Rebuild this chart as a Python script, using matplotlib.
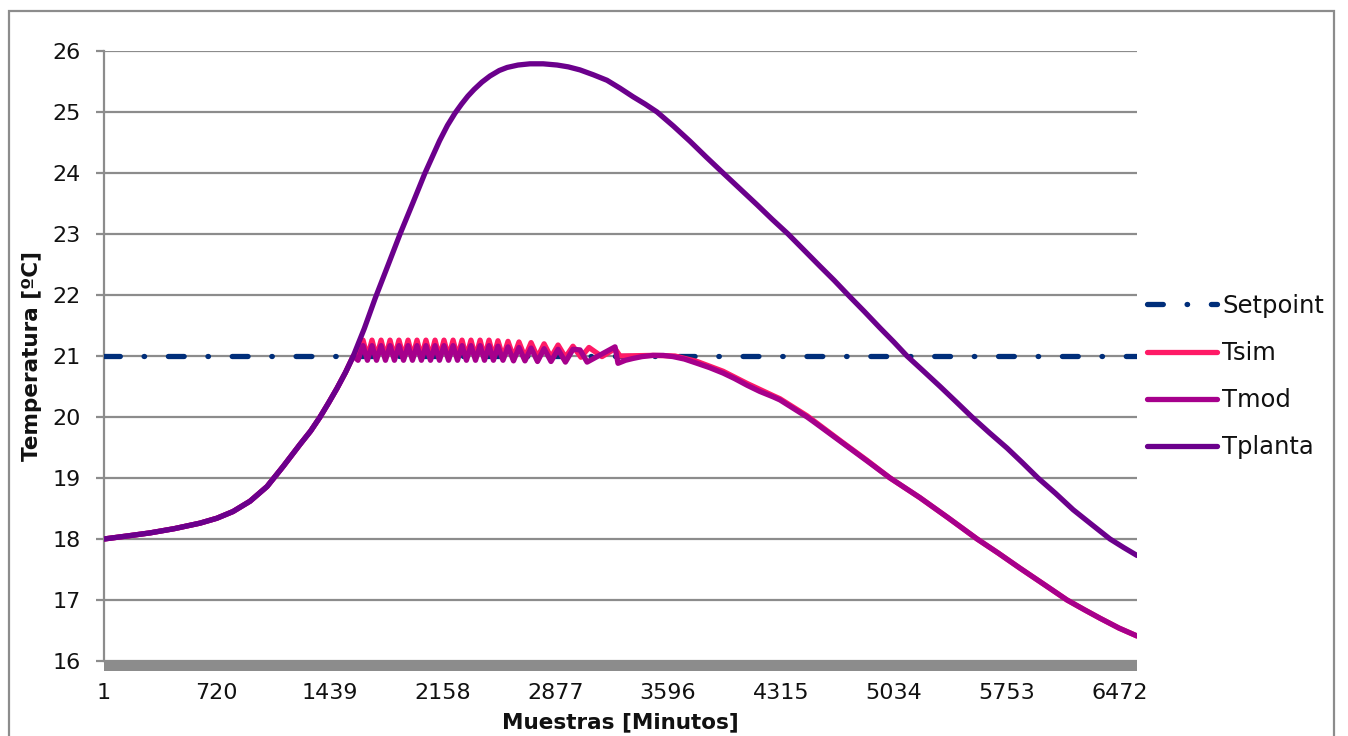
import matplotlib
matplotlib.use("Agg")
import matplotlib.pyplot as plt
from matplotlib.patches import Rectangle

# Sample index (minutes) and temperature readings [°C]
n_samples = 6585
setpoint = 21.0

# Shared warm-up ramp (all three traces coincide until the setpoint is reached)
ramp_x = [1, 150, 294, 450, 613, 720, 823, 932, 1040, 1143, 1250, 1318, 1378,
          1432, 1486, 1540, 1590]
ramp_t = [18.00, 18.05, 18.10, 18.17, 18.26, 18.34, 18.45, 18.62, 18.86, 19.19,
          19.55, 19.77, 20.00, 20.23, 20.47, 20.73, 21.00]

# Plant temperature after the ramp
tplanta_x = [1660, 1730, 1810, 1888, 1968, 2047, 2140, 2190, 2238, 2280, 2320,
             2360, 2410, 2461, 2520, 2570, 2640, 2716, 2800, 2889, 2960, 3035,
             3120, 3207, 3290, 3373, 3450, 3526, 3630, 3736, 3840, 3947, 4055,
             4163, 4260, 4361, 4465, 4565, 4655, 4744, 4847, 4947, 5035, 5119,
             5225, 5330, 5432, 5533, 5645, 5757, 5855, 5954, 6065, 6178, 6295,
             6413, 6500, 6585]
tplanta_t = [21.45, 21.95, 22.48, 23.00, 23.50, 24.00, 24.53, 24.78, 24.98, 25.13,
             25.26, 25.37, 25.49, 25.59, 25.68, 25.73, 25.77, 25.79, 25.79, 25.77,
             25.74, 25.69, 25.61, 25.52, 25.39, 25.25, 25.13, 25.00, 24.77, 24.52,
             24.26, 24.00, 23.74, 23.48, 23.24, 23.00, 22.73, 22.47, 22.24, 22.00,
             21.73, 21.46, 21.23, 21.00, 20.75, 20.50, 20.25, 20.00, 19.74, 19.49,
             19.25, 19.00, 18.75, 18.48, 18.24, 18.00, 17.86, 17.73]

# Controlled (simulated) temperature around the setpoint and afterwards
tsim_x = [1620, 1652, 1680, 1709, 1738, 1767, 1795, 1824, 1852, 1881, 1910, 1939,
          1967, 1996, 2024, 2053, 2082, 2111, 2139, 2168, 2197, 2226, 2254, 2283,
          2311, 2340, 2369, 2398, 2426, 2455, 2483, 2512, 2544, 2576, 2611, 2646,
          2684, 2723, 2764, 2806, 2850, 2895, 2942, 2990, 3041, 3092, 3175, 3258,
          3290, 3500, 3640, 3781, 3947, 4100, 4266, 4309, 4482, 4700, 4864, 5011,
          5200, 5380, 5566, 5700, 5840, 5990, 6139, 6250, 6350, 6470, 6585]
tsim_t = [20.98, 21.26, 20.98, 21.26, 20.98, 21.26, 20.98, 21.26, 20.98, 21.26, 20.98, 21.26,
          20.98, 21.26, 20.98, 21.26, 20.98, 21.26, 20.98, 21.26, 20.98, 21.26, 20.98, 21.26,
          20.98, 21.26, 20.98, 21.26, 20.98, 21.26, 20.98, 21.25, 20.98, 21.24, 20.98, 21.23,
          20.98, 21.22, 20.98, 21.20, 20.98, 21.18, 20.98, 21.16, 20.98, 21.14, 20.99, 21.12,
          21.00, 21.01, 21.00, 20.91, 20.75, 20.55, 20.35, 20.30, 20.02, 19.60, 19.29, 19.00,
          18.68, 18.35, 18.00, 17.77, 17.52, 17.26, 17.00, 16.84, 16.70, 16.54, 16.41]

# Model temperature around the setpoint and afterwards
tmod_x = [1620, 1652, 1680, 1709, 1738, 1767, 1795, 1824, 1852, 1881, 1910, 1939,
          1967, 1996, 2024, 2053, 2082, 2111, 2139, 2168, 2197, 2226, 2254, 2283,
          2311, 2340, 2369, 2398, 2426, 2455, 2483, 2512, 2544, 2576, 2611, 2646,
          2684, 2723, 2764, 2806, 2850, 2895, 2942, 2990, 3035, 3080, 3258, 3277,
          3325, 3373, 3430, 3500, 3565, 3628, 3700, 3781, 3860, 3947, 4020, 4100,
          4180, 4266, 4309, 4482, 4520, 4700, 4864, 5011, 5200, 5380, 5566, 5700,
          5840, 5990, 6139, 6250, 6350, 6470, 6585]
tmod_t = [20.93, 21.17, 20.93, 21.17, 20.93, 21.17, 20.93, 21.17, 20.93, 21.17, 20.93, 21.17,
          20.93, 21.17, 20.93, 21.17, 20.93, 21.17, 20.93, 21.17, 20.93, 21.17, 20.93, 21.17,
          20.93, 21.17, 20.93, 21.17, 20.93, 21.17, 20.93, 21.16, 20.93, 21.15, 20.92, 21.14,
          20.92, 21.13, 20.91, 21.12, 20.91, 21.11, 20.90, 21.11, 21.10, 20.90, 21.15, 20.88,
          20.93, 20.96, 20.99, 21.01, 21.01, 20.99, 20.95, 20.88, 20.81, 20.72, 20.63, 20.52,
          20.42, 20.33, 20.28, 20.00, 19.93, 19.59, 19.28, 19.00, 18.68, 18.35, 18.00, 17.77,
          17.52, 17.26, 17.00, 16.84, 16.70, 16.54, 16.41]

tick_labels = ["1", "720", "1439", "2158", "2877", "3596", "4315", "5034", "5753", "6472"]
y_ticks = [16, 17, 18, 19, 20, 21, 22, 23, 24, 25, 26]

plt.rcParams["font.family"] = ["DejaVu Sans"]
W, H = 1348, 736
fig = plt.figure(figsize=(W / 100, H / 100), dpi=100)
fig.patch.set_facecolor("white")

L, R, T, B = 104, 1137, 51, 661
ax = fig.add_axes([L / W, 1 - B / H, (R - L) / W, (B - T) / H])

grey = "#8c8c8c"
txt_c = "#111111"
c_set = "#002e7a"
c_sim = "#ff1a66"
c_mod = "#a6008c"
c_pla = "#6b008c"
lw = 3.8

ax.plot([1, n_samples], [setpoint, setpoint], color=c_set, lw=3.8,
        linestyle=(0, (3.0, 4.5, 0.1, 4.5)), dash_capstyle="round",
        label="Setpoint", zorder=3)
ax.plot(ramp_x + tsim_x, ramp_t + tsim_t, color=c_sim, lw=lw,
        solid_capstyle="round", solid_joinstyle="round", label="Tsim", zorder=4)
ax.plot(ramp_x + tmod_x, ramp_t + tmod_t, color=c_mod, lw=lw,
        solid_capstyle="round", solid_joinstyle="round", label="Tmod", zorder=5)
ax.plot(ramp_x + tplanta_x, ramp_t + tplanta_t, color=c_pla, lw=lw,
        solid_capstyle="round", solid_joinstyle="round", label="Tplanta", zorder=6)

ax.set_xlim(1, n_samples)
ax.set_ylim(16, 26)
ax.set_yticks(y_ticks)
ax.set_yticklabels([str(v) for v in y_ticks])
ax.set_xticks([1 + 719 * i for i in range(len(tick_labels))])
ax.set_xticklabels(tick_labels)

ax.grid(axis="y", color=grey, lw=1.6, zorder=0)
ax.set_axisbelow(True)
for s in ["top", "right", "bottom"]:
    ax.spines[s].set_visible(False)
ax.spines["left"].set_color(grey)
ax.spines["left"].set_linewidth(1.6)
# thick category-axis band under the plot area
ax.add_patch(Rectangle((0, -10 / (B - T)), 1, 10 / (B - T), transform=ax.transAxes,
                       facecolor=grey, edgecolor="none", clip_on=False, zorder=2))
ax.tick_params(axis="y", length=6, width=1.6, color=grey, labelsize=16, pad=10.5,
               labelcolor=txt_c)
ax.tick_params(axis="x", length=0, labelsize=16, pad=16, labelcolor=txt_c)

fig.text(32 / W, 1 - 356 / H, "Temperatura [ºC]", rotation=90, ha="center", va="center",
         fontsize=15.5, fontweight="bold", color=txt_c)
fig.text(620 / W, 1 - 722 / H, "Muestras [Minutos]", ha="center", va="center",
         fontsize=15.5, fontweight="bold", color=txt_c)

leg = fig.legend(loc="upper left", bbox_to_anchor=(1147 / W, 1 - 294 / H),
                 frameon=False, fontsize=17.5, handlelength=2.9, handletextpad=0.2,
                 labelspacing=0.95, borderaxespad=0, borderpad=0)
for t in leg.get_texts():
    t.set_color(txt_c)

fig.add_artist(Rectangle((9 / W, -0.05), (1334 - 9) / W, 1 - 11 / H + 0.05,
                         transform=fig.transFigure, fill=False, edgecolor=grey, lw=1.6))

fig.savefig("out.png", dpi=100, facecolor="white")
